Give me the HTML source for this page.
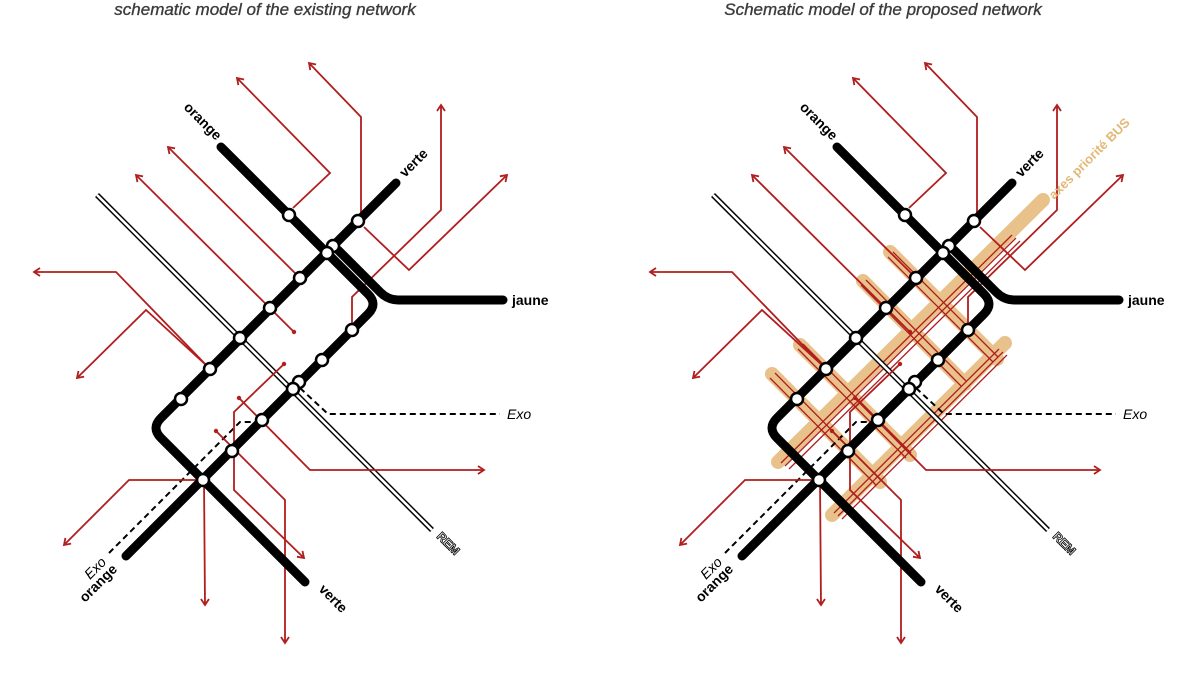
<!DOCTYPE html>
<html><head><meta charset="utf-8"><style>
html,body{margin:0;padding:0;background:#fff;}
svg{display:block;}
</style></head><body>
<svg width="1200" height="675" viewBox="0 0 1200 675" xmlns="http://www.w3.org/2000/svg">
<defs>
<marker id="ar" markerUnits="userSpaceOnUse" markerWidth="12" markerHeight="12" refX="7" refY="5" orient="auto">
<path d="M1,1 L7,5 L1,9" fill="none" stroke="#b01e1e" stroke-width="1.8"/>
</marker>
<g id="net">
  <path d="M97,195 L432,530" stroke="#000" stroke-width="5.5" fill="none"/>
  <path d="M97,195 L432,530" stroke="#fff" stroke-width="2.6" fill="none"/>
  <path d="M109,553 L240,422 L258,422" stroke="#000" stroke-width="2" stroke-dasharray="6,4" fill="none"/>
  <path d="M300,388 L328,414 L500,414" stroke="#000" stroke-width="2" stroke-dasharray="6,4" fill="none"/>
  <g fill="none" stroke="#b01e1e" stroke-width="1.8">
    <path d="M293,208 L330,173 L237,78" marker-end="url(#ar)"/>
    <path d="M361,215 L361,117 L309,63" marker-end="url(#ar)"/>
    <path d="M364,227 L409,270 L507,175" marker-end="url(#ar)"/>
    <path d="M352,325 L352,297 L441,210 L441,105" marker-end="url(#ar)"/>
    <path d="M299,277 L168,147" marker-end="url(#ar)"/>
    <path d="M294,332 L136,175" marker-end="url(#ar)"/>
    <path d="M210,369 L116,272 L34,272" marker-end="url(#ar)"/>
    <path d="M207,366 L146,310 L77,378" marker-end="url(#ar)"/>
    <path d="M284,364 L234,412 L234,490 L304,558" marker-end="url(#ar)"/>
    <path d="M239,398 L310,470 L484,470" marker-end="url(#ar)"/>
    <path d="M216,431 L285,500 L285,643" marker-end="url(#ar)"/>
    <path d="M204,480 L205,605" marker-end="url(#ar)"/>
    <path d="M198,480 L129,480 L64,545" marker-end="url(#ar)"/>
  </g>
  <g fill="#b01e1e">
    <circle cx="294" cy="332" r="2.2"/><circle cx="284" cy="364" r="2.2"/>
    <circle cx="239" cy="398" r="2.2"/><circle cx="216" cy="431" r="2.2"/>
  </g>
  <g fill="none" stroke="#000" stroke-width="9" stroke-linecap="round" stroke-linejoin="round">
    <path d="M221,147 L368,294 Q378,304 368,314 L126,556"/>
    <path d="M396,183 L161,418 Q151,428 161,438 L305,582"/>
    <path d="M338,250 L380,292 Q388,300 398,300 L503,300"/>
  </g>
  <g fill="#fff" stroke="#000" stroke-width="2.5">
    <circle cx="289" cy="215" r="6"/><circle cx="358" cy="221" r="6"/>
    <circle cx="300" cy="278" r="6"/><circle cx="270" cy="308" r="6"/>
    <circle cx="240" cy="338" r="6"/><circle cx="210" cy="369" r="6"/>
    <circle cx="181" cy="399" r="6"/><circle cx="352" cy="330" r="6"/>
    <circle cx="322" cy="360" r="6"/><circle cx="262" cy="420" r="6"/>
    <circle cx="232" cy="451" r="6"/><circle cx="203" cy="480" r="6"/>
    <circle cx="333" cy="246" r="6"/><circle cx="327" cy="253" r="6"/>
    <circle cx="299" cy="382" r="6"/><circle cx="293" cy="389" r="6"/>
  </g>
</g>
</defs>

<text x="265" y="15" text-anchor="middle" font-family="Liberation Sans, sans-serif" font-style="italic" font-size="17" fill="#3c3c3c" stroke="#3c3c3c" stroke-width="0.35">schematic model of the existing network</text>
<text x="883" y="15" text-anchor="middle" font-family="Liberation Sans, sans-serif" font-style="italic" font-size="17" fill="#3c3c3c" stroke="#3c3c3c" stroke-width="0.35">Schematic model of the proposed network</text>

<use href="#net"/>

<g fill="none" stroke="#e8c28a" stroke-width="14" stroke-linecap="round">
  <path d="M1043,200 L778,462"/>
  <path d="M1005,343 L832,515"/>
  <path d="M890,252 L997,359"/>
  <path d="M863,281 L965,384"/>
  <path d="M800,345 L910,455"/>
  <path d="M772,374 L880,482"/>
</g>
<g fill="none" stroke="#b01e1e" stroke-width="1.3">
  <path d="M1012,235 L781,463 M1016,238 L785,466 M1020,241 L789,469"/>
  <path d="M999,349 L834,513 M1003,352 L838,516 M1007,355 L842,519"/>
  <path d="M888,257 L993,362 M893,252 L998,357"/>
  <path d="M861,285 L961,386 M866,280 L966,381"/>
  <path d="M798,349 L906,458 M803,344 L911,453"/>
  <path d="M770,378 L876,485 M775,373 L881,480"/>
</g>
<use href="#net" transform="translate(616,0)"/>

<g font-family="Liberation Sans, sans-serif" font-weight="bold" font-size="14" fill="#000">
  <text transform="translate(216,141) rotate(45)" text-anchor="end">orange</text>
  <text transform="translate(405,178) rotate(-45)">verte</text>
  <text x="512" y="305">jaune</text>
  <text transform="translate(118,570) rotate(-45)" text-anchor="end">orange</text>
  <text transform="translate(318,590) rotate(45)">verte</text>
  <text transform="translate(832,141) rotate(45)" text-anchor="end">orange</text>
  <text transform="translate(1021,178) rotate(-45)">verte</text>
  <text x="1128" y="305">jaune</text>
  <text transform="translate(734,570) rotate(-45)" text-anchor="end">orange</text>
  <text transform="translate(934,590) rotate(45)">verte</text>
</g>
<g font-family="Liberation Sans, sans-serif" font-style="italic" font-size="14" fill="#000">
  <text x="507" y="419">Exo</text>
  <text transform="translate(90,580) rotate(-45)">Exo</text>
  <text x="1123" y="419">Exo</text>
  <text transform="translate(706,580) rotate(-45)">Exo</text>
</g>
<g font-family="Liberation Sans, sans-serif" font-weight="bold" font-size="12" fill="#fff" stroke="#000" stroke-width="0.8">
  <text transform="translate(436,537) rotate(45)">REM</text>
  <text transform="translate(1052,537) rotate(45)">REM</text>
</g>
<text transform="translate(1054,200) rotate(-45)" font-family="Liberation Sans, sans-serif" font-weight="bold" font-size="13" fill="#e2b877">axes priorité BUS</text>
</svg>
</body></html>
